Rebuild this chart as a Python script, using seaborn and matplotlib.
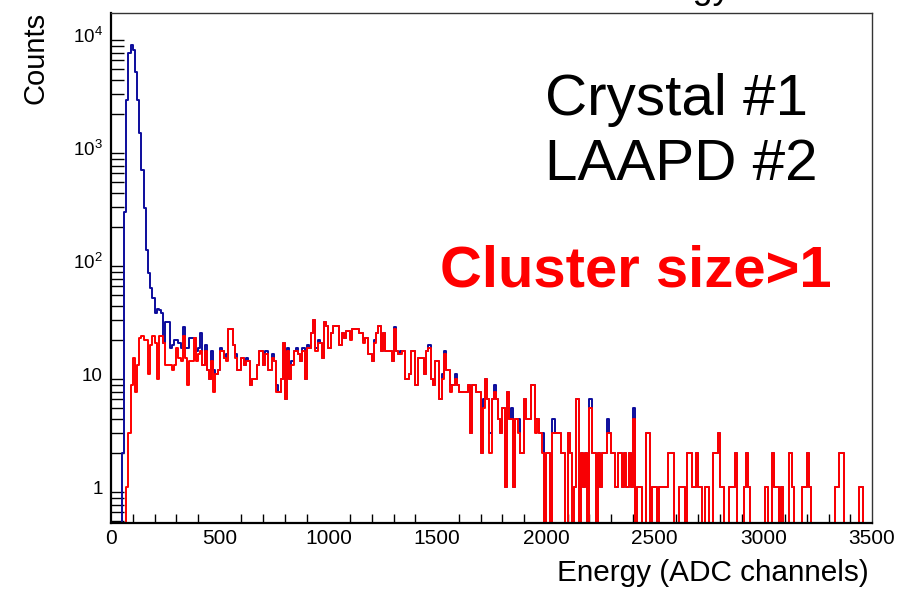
"""
Energy spectrum of crystal #1 / LAAPD #2: all events vs. cluster size > 1,
redrawn in the ROOT look (log counts, step histograms).
"""

import numpy as np
import pandas as pd
import matplotlib
matplotlib.use("Agg")
import matplotlib.pyplot as plt
import seaborn as sns
from matplotlib.ticker import FixedLocator, MultipleLocator, NullFormatter

# 350 bins of 10 ADC channels, 0 - 3500
bin_width = 10
n_bins = 350

# counts per bin, cluster size > 1 (red)
red_counts = [
    0, 0, 0, 0, 0, 0, 0, 1, 3, 8,
    14, 7, 12, 21, 22, 20, 20, 10, 18, 22,
    19, 9, 22, 22, 19, 12, 12, 12, 11, 12,
    17, 14, 13, 22, 14, 8, 13, 13, 21, 13,
    15, 16, 12, 16, 11, 9, 13, 7, 10, 11,
    16, 16, 14, 13, 25, 25, 18, 14, 11, 11,
    14, 12, 13, 13, 8, 9, 9, 12, 16, 16,
    12, 15, 11, 11, 14, 13, 7, 7, 9, 19,
    6, 16, 9, 12, 16, 16, 15, 13, 16, 9,
    17, 17, 23, 30, 16, 19, 19, 14, 29, 27,
    17, 23, 27, 27, 27, 18, 23, 21, 24, 24,
    20, 25, 25, 25, 23, 23, 19, 21, 15, 15,
    13, 19, 23, 27, 16, 23, 16, 16, 16, 13,
    25, 16, 15, 15, 16, 9, 9, 10, 16, 16,
    8, 14, 14, 14, 10, 16, 17, 9, 8, 13,
    13, 6, 9, 15, 11, 11, 7, 8, 9, 8,
    7, 7, 7, 7, 8, 3, 8, 8, 7, 7,
    2, 5, 9, 6, 2, 6, 7, 6, 4, 3,
    5, 1, 7, 4, 4, 1, 4, 3, 2, 2,
    6, 4, 4, 8, 8, 3, 4, 3, 2, 0,
    2, 2, 0, 3, 3, 3, 3, 2, 2, 0,
    3, 2, 0, 1, 6, 0, 2, 1, 2, 0,
    5, 2, 2, 0, 2, 1, 2, 2, 3, 3,
    2, 2, 1, 2, 2, 1, 2, 1, 2, 1,
    4, 0, 1, 1, 0, 0, 3, 3, 0, 1,
    1, 0, 1, 1, 1, 1, 2, 2, 2, 0,
    0, 1, 1, 1, 0, 2, 2, 1, 1, 2,
    1, 1, 0, 1, 1, 0, 0, 2, 2, 3,
    1, 1, 0, 0, 1, 1, 1, 2, 0, 0,
    0, 1, 2, 1, 0, 0, 0, 0, 0, 0,
    0, 1, 0, 0, 2, 1, 1, 0, 1, 0,
    0, 0, 2, 1, 0, 0, 0, 0, 1, 1,
    2, 1, 0, 0, 0, 0, 0, 0, 0, 0,
    0, 0, 0, 1, 1, 2, 2, 0, 0, 0,
    0, 0, 0, 0, 1, 1, 0, 0, 0, 0,
]

# all events (blue): first 42 bins hold the pedestal peak
blue_head = [
    0, 0, 0, 0, 0, 2, 275, 2690, 6950, 8200,
    7450, 4780, 2690, 1365, 645, 297, 126, 79, 58, 47,
    35, 38, 37, 35, 19, 29, 29, 17, 18, 20,
    20, 19, 17, 26, 17, 17, 21, 21, 21, 16,
    17, 23,
]
# further bins where the blue histogram sits above the red one
blue_extra_bins = [43, 46, 47, 50, 53, 57, 62, 71, 74, 76, 81, 83, 85, 88, 90,
                   94, 95, 110, 116, 121, 130, 133, 146, 152, 153, 156, 158,
                   171, 174, 176, 184, 187, 195, 198, 203, 220, 228, 240]
blue_extra_counts = [2, 3, 4, 1, 2, 1, 1, 1, 1, 1, 1, 1, 1, 1, 1,
                     1, 1, 1, 1, 1, 1, 1, 1, 1, 1, 1, 1,
                     1, 1, 1, 1, 1, 1, 1, 1, 1, 1, 1]

y_tick_values = [1, 10, 100, 1000, 10000]
y_tick_labels = ["1", "10", "$10^{2}$", "$10^{3}$", "$10^{4}$"]

BLUE = "#0c0c9c"
RED = "#ff0000"


def build_blue():
    blue = list(blue_head) + list(red_counts[len(blue_head):])
    for b, extra in zip(blue_extra_bins, blue_extra_counts):
        blue[b] += extra
    return blue


def plot_spectrum():
    sns.set_theme(style="white")
    plt.rcParams["font.family"] = ["Liberation Sans", "DejaVu Sans"]
    plt.rcParams["mathtext.fontset"] = "custom"
    plt.rcParams["mathtext.rm"] = "Liberation Sans"
    plt.rcParams["mathtext.default"] = "regular"
    for key in ["text.color", "axes.labelcolor", "xtick.color", "ytick.color"]:
        plt.rcParams[key] = "black"

    centers = np.arange(n_bins) * bin_width + bin_width / 2
    df = pd.DataFrame({"energy": centers,
                       "all": np.array(build_blue(), dtype=float),
                       "cluster": np.array(red_counts, dtype=float)})
    x_max = n_bins * bin_width

    fig = plt.figure(figsize=(8.99, 5.89), dpi=100)
    ax = fig.add_axes([0.1235, 0.1129, 0.8465, 0.8645])

    sns.histplot(data=df, x="energy", weights="all", binwidth=bin_width,
                 binrange=(0, x_max), element="step", fill=False,
                 color=BLUE, linewidth=1.4, ax=ax)
    sns.histplot(data=df, x="energy", weights="cluster", binwidth=bin_width,
                 binrange=(0, x_max), element="step", fill=False,
                 color=RED, linewidth=1.4, ax=ax)

    ax.set_yscale("log")
    ax.set_xlim(0, x_max)
    ax.set_ylim(0.488, 15660)

    ax.xaxis.set_major_locator(MultipleLocator(500))
    ax.xaxis.set_minor_locator(MultipleLocator(100))
    ax.yaxis.set_major_locator(FixedLocator(y_tick_values))
    ax.set_yticklabels(y_tick_labels)
    minors = [m * 10.0 ** d for d in range(-1, 5) for m in range(2, 10)]
    ax.yaxis.set_minor_locator(FixedLocator([v for v in minors if 0.488 < v < 15660]))
    ax.yaxis.set_minor_formatter(NullFormatter())

    ax.tick_params(axis="x", which="major", direction="in", length=11,
                   width=1.2, labelsize=15, pad=5)
    ax.tick_params(axis="x", which="minor", direction="in", length=6.5,
                   width=1.0, bottom=True)
    ax.tick_params(axis="y", which="major", direction="in", length=17,
                   width=1.2, labelsize=13.5, pad=6)
    ax.tick_params(axis="y", which="minor", direction="in", length=9.5,
                   width=1.0, left=True)

    for side in ["left", "bottom"]:
        ax.spines[side].set_color("black")
        ax.spines[side].set_linewidth(1.6)
    for side in ["top", "right"]:
        ax.spines[side].set_color("#333333")
        ax.spines[side].set_linewidth(1.0)

    ax.set_xlabel("")
    ax.set_ylabel("")
    fig.text(0.9666, 0.013, "Energy (ADC channels)", ha="right",
             va="baseline", fontsize=21.4)
    fig.text(0.039, 0.980, "Counts", rotation=90, ha="center", va="top",
             fontsize=21)

    fig.text(0.606, 0.805, "Crystal #1", fontsize=42, va="baseline")
    fig.text(0.606, 0.694, "LAAPD #2", fontsize=42, va="baseline")
    fig.text(0.489, 0.513, "Cluster size>1", fontsize=41.8, va="baseline",
             color=RED, fontweight="bold")

    # title is cut off by the top of the canvas, only descenders show
    fig.text(0.813, 1.003, "Cluster Energy", ha="right", va="baseline",
             fontsize=26)

    fig.savefig("out.png", dpi=100)


if __name__ == "__main__":
    plot_spectrum()
